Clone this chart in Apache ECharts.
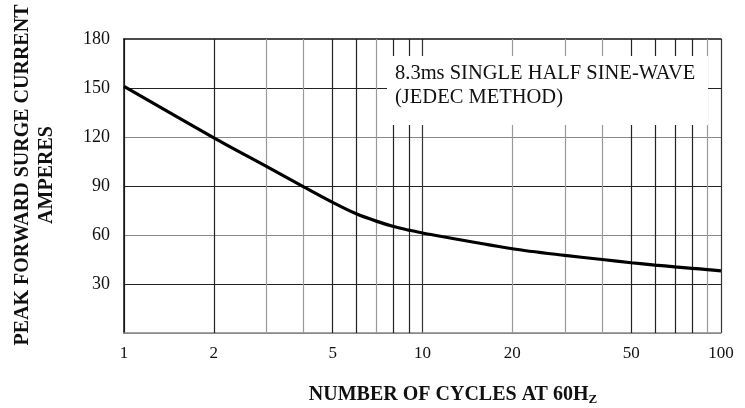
<!DOCTYPE html>
<html>
<head>
<meta charset="utf-8">
<script src="https://cdn.jsdelivr.net/npm/echarts@6/dist/echarts.min.js"></script>
<style>
  html, body { margin: 0; padding: 0; background: #fff; }
  #chart { width: 745px; height: 408px; }
</style>
</head>
<body>
<div id="chart"></div>
<script>
// ---- data ----
const cycles  = [1, 2, 3, 4, 5, 6, 7, 8, 9, 10, 20, 30, 40, 50, 60, 70, 80, 90, 100];
const current = [151, 119.5, 102, 89.5, 80, 73, 68.5, 65.2, 63, 61.2, 51.6, 47.5, 45, 43, 41.6, 40.5, 39.6, 38.8, 38];
const xTickLabels = [1, 2, 5, 10, 20, 50, 100];
const xGridDark  = [2, 5, 6, 8, 9, 50, 60, 70, 80];
const xGridLight = [3, 4, 7, 20, 30, 40, 90];
const yTicks = [30, 60, 90, 120, 150, 180];
const noteLines = ['8.3ms SINGLE HALF SINE-WAVE', '(JEDEC METHOD)'];
const yTitle = ['PEAK FORWARD SURGE CURRENT', 'AMPERES'];
const xTitle = 'NUMBER OF CYCLES AT 60H';
const xTitleSub = 'Z';

const SERIF = "'Liberation Serif', 'Times New Roman', Times, serif";
const chart = echarts.init(document.getElementById('chart'), null, { renderer: 'canvas' });

const gridMarks = []
  .concat(xGridDark.map(v => ({ xAxis: v, lineStyle: { color: '#222', width: 1.2, type: 'solid' } })))
  .concat(xGridLight.map(v => ({ xAxis: v, lineStyle: { color: '#999', width: 1.2, type: 'solid' } })));

chart.setOption({
  animation: false,
  backgroundColor: '#fff',
  grid: { left: 124, right: 24, top: 39, bottom: 75, containLabel: false },
  xAxis: [{
    type: 'log', logBase: 10, min: 1, max: 100,
    axisLine: { show: true, lineStyle: { color: '#888', width: 1.5 } },
    axisTick: { show: false },
    axisLabel: { customValues: xTickLabels, color: '#111', fontFamily: SERIF, fontSize: 17, margin: 12 },
    splitLine: { show: true, lineStyle: { color: '#333', width: 1.2 } },
    minorTick: { show: false }, minorSplitLine: { show: false }
  }, {
    type: 'log', logBase: 10, min: 1, max: 100, position: 'top',
    axisLine: { show: true, lineStyle: { color: '#111', width: 1.5 } },
    axisTick: { show: false }, axisLabel: { show: false }, splitLine: { show: false }
  }],
  yAxis: {
    type: 'value', min: 0, max: 180, interval: 30,
    axisLine: { show: true, lineStyle: { color: '#111', width: 1.5 } },
    axisTick: { show: false },
    axisLabel: {
      color: '#111', fontFamily: SERIF, fontSize: 18, margin: 14,
      formatter: v => (yTicks.indexOf(v) >= 0 ? String(v) : '')
    },
    splitLine: { show: true, showMaxLine: false, lineStyle: { color: ['#888', '#222'], width: 1.2 } }
  },
  graphic: [
    {
      type: 'rect', z: 50, silent: true,
      shape: { x: 387, y: 56, width: 321, height: 69 },
      style: { fill: '#fff' }
    },
    {
      type: 'text', z: 51, silent: true, left: 395, top: 62,
      style: { text: noteLines.join('\n'), fill: '#111', font: '20.5px ' + SERIF, lineHeight: 24 }
    },
    {
      type: 'text', z: 51, silent: true, x: 11, y: 175, rotation: Math.PI / 2,
      style: {
        text: yTitle.join('\n'), fill: '#111', font: 'bold 20px ' + SERIF,
        align: 'center', verticalAlign: 'top', lineHeight: 24
      }
    },
    {
      type: 'text', z: 51, silent: true, x: 453, y: 395,
      style: {
        text: '{m|' + xTitle + '}{s|' + xTitleSub + '}',
        align: 'center', verticalAlign: 'middle',
        rich: {
          m: { fontFamily: SERIF, fontWeight: 'bold', fontSize: 20, fill: '#111', lineHeight: 22 },
          s: { fontFamily: SERIF, fontWeight: 'bold', fontSize: 13, fill: '#111', verticalAlign: 'bottom', lineHeight: 12 }
        }
      }
    }
  ],
  series: [
    {
      type: 'line', data: [], z: 1, silent: true,
      markLine: { silent: true, symbol: 'none', label: { show: false }, animation: false, data: gridMarks }
    },
    {
      type: 'line', z: 5, smooth: 0.3, showSymbol: false, silent: true,
      lineStyle: { color: '#000', width: 3.2 },
      data: cycles.map((c, i) => [c, current[i]])
    }
  ]
});
</script>
</body>
</html>
